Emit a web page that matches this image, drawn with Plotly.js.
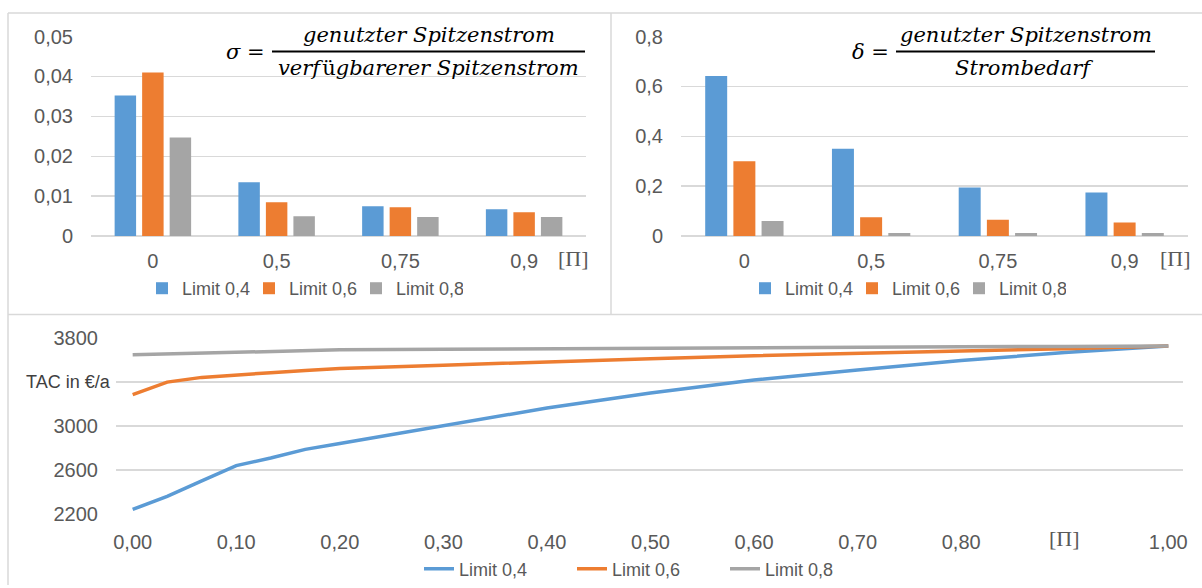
<!DOCTYPE html>
<html><head><meta charset="utf-8">
<script src="https://cdn.plot.ly/plotly-3.0.1.min.js"></script>
<style>html,body{margin:0;padding:0;background:#fff;}#chart{width:1202px;height:588px;}</style>
</head><body><div id="chart"></div>
<script>
// ---- data ----
const categories = ['0', '0,5', '0,75', '0,9'];
const seriesNames = ['Limit 0,4', 'Limit 0,6', 'Limit 0,8'];
const sigma04 = [0.0352, 0.0135, 0.0075, 0.0067];
const sigma06 = [0.0410, 0.0085, 0.0072, 0.0060];
const sigma08 = [0.0247, 0.0050, 0.0048, 0.0048];
const delta04 = [0.642, 0.350, 0.195, 0.175];
const delta06 = [0.300, 0.076, 0.065, 0.054];
const delta08 = [0.060, 0.012, 0.012, 0.012];
const piValues = [0, 0.0333, 0.0667, 0.1, 0.1333, 0.1667, 0.2, 0.3, 0.4, 0.5, 0.6, 0.7, 0.8, 0.9, 1.0];
const tac04 = [2242, 2362, 2502, 2641, 2710, 2789, 2843, 3003, 3165, 3302, 3421, 3512, 3597, 3670, 3730];
const tac06 = [3287, 3401, 3444, 3468, 3487, 3506, 3525, 3555, 3587, 3614, 3641, 3665, 3684, 3705, 3730];
const tac08 = [3649, 3657, 3665, 3673, 3681, 3689, 3695, 3700, 3703, 3706, 3712, 3717, 3722, 3726, 3730];
const tacTickVals = [2200, 2600, 3000, 3400, 3800];
const tacTickText = ['2200', '2600', '3000', '', '3800'];
const piTickVals = [0, 0.1, 0.2, 0.3, 0.4, 0.5, 0.6, 0.7, 0.8, 0.9, 1.0];
const piTickText = ['0,00', '0,10', '0,20', '0,30', '0,40', '0,50', '0,60', '0,70', '0,80', '', '1,00'];
const colors = ['#5B9BD5', '#ED7D31', '#A5A5A5'];

// ---- helpers ----
const W = 1202, H = 588;
const px = v => v / W;
const py = v => 1 - v / H;
const tickFont = {family: 'Liberation Sans, Arial, sans-serif', size: 20, color: '#595959'};
const legFont = {family: 'Liberation Sans, Arial, sans-serif', size: 18, color: '#595959'};
const gridC = '#D9D9D9';

const sigmaSeries = [sigma04, sigma06, sigma08];
const deltaSeries = [delta04, delta06, delta08];
const tacSeries = [tac04, tac06, tac08];
const traces = [];
sigmaSeries.forEach((s, i) => traces.push({type: 'bar', x: categories, y: s, name: seriesNames[i],
  marker: {color: colors[i]}, xaxis: 'x', yaxis: 'y', legend: 'legend', hoverinfo: 'skip'}));
deltaSeries.forEach((s, i) => traces.push({type: 'bar', x: categories, y: s, name: seriesNames[i],
  marker: {color: colors[i]}, xaxis: 'x2', yaxis: 'y2', legend: 'legend2', hoverinfo: 'skip'}));
tacSeries.forEach((s, i) => traces.push({type: 'scatter', mode: 'lines', x: piValues, y: s, name: seriesNames[i],
  line: {color: colors[i], width: 3.5}, xaxis: 'x3', yaxis: 'y3', legend: 'legend3', hoverinfo: 'skip'}));

const catAxis = (dom) => ({domain: dom, type: 'category', showgrid: false, zeroline: false, showline: false,
  ticks: '', tickfont: tickFont, ticklabelstandoff: 11, fixedrange: true});
const valAxis = (dom, range, dtick, anchor) => ({domain: dom, range: range, dtick: dtick, anchor: anchor,
  showgrid: true, gridcolor: gridC, gridwidth: 1.5, zeroline: true, zerolinecolor: gridC, zerolinewidth: 1.5,
  showline: false, ticks: '', tickfont: tickFont, ticklabelstandoff: 17, fixedrange: true});

const mathFont = {family: 'DejaVu Serif, serif', size: 21, color: '#000'};
const annotations = [
  {xref: 'paper', yref: 'paper', x: px(245), y: py(52), xanchor: 'center', yanchor: 'middle', showarrow: false,
   text: '<i>σ</i> =', font: mathFont},
  {xref: 'paper', yref: 'paper', x: px(428.5), y: py(49), xanchor: 'center', yanchor: 'bottom', showarrow: false,
   text: '<i>genutzter Spitzenstrom</i>', font: mathFont},
  {xref: 'paper', yref: 'paper', x: px(428.5), y: py(54), xanchor: 'center', yanchor: 'top', showarrow: false,
   text: '<i>verf</i>\u200Aü<i>gbarerer Spitzenstrom</i>', font: mathFont},
  {xref: 'paper', yref: 'paper', x: px(870), y: py(52), xanchor: 'center', yanchor: 'middle', showarrow: false,
   text: '<i>δ</i> =', font: mathFont},
  {xref: 'paper', yref: 'paper', x: px(1026), y: py(49), xanchor: 'center', yanchor: 'bottom', showarrow: false,
   text: '<i>genutzter Spitzenstrom</i>', font: mathFont},
  {xref: 'paper', yref: 'paper', x: px(1024), y: py(54), xanchor: 'center', yanchor: 'top', showarrow: false,
   text: '<i>Strombedarf</i>', font: mathFont},
  {xref: 'paper', yref: 'paper', x: px(573), y: py(260), xanchor: 'center', yanchor: 'middle', showarrow: false,
   text: '[Π]', font: {family: 'Liberation Serif, serif', size: 22, color: '#595959'}},
  {xref: 'paper', yref: 'paper', x: px(1175), y: py(260), xanchor: 'center', yanchor: 'middle', showarrow: false,
   text: '[Π]', font: {family: 'Liberation Serif, serif', size: 22, color: '#595959'}},
  {xref: 'x3', yref: 'paper', x: 0.9, y: py(541), xanchor: 'center', yanchor: 'middle', showarrow: false,
   text: '[Π]', font: {family: 'Liberation Serif, serif', size: 22, color: '#595959'}},
  {xref: 'paper', yref: 'y3', x: px(113), y: 3400, xanchor: 'right', yanchor: 'middle', showarrow: false,
   text: 'TAC in €/a', font: {family: 'Liberation Sans, Arial, sans-serif', size: 18, color: '#404040'}}
];

const borderLine = (x0, y0, x1, y1) => ({type: 'line', xref: 'paper', yref: 'paper', x0: px(x0), y0: py(y0),
  x1: px(x1), y1: py(y1), line: {color: '#D9D9D9', width: 1.5}, layer: 'below'});
const shapes = [
  borderLine(8, 13, 1202, 13),
  borderLine(8, 13, 8, 588),
  borderLine(611, 13, 611, 316),
  borderLine(8, 316, 1202, 316),
  {type: 'line', xref: 'paper', yref: 'paper', x0: px(272), x1: px(585), y0: py(51.7), y1: py(51.7), line: {color: '#000', width: 2}},
  {type: 'line', xref: 'paper', yref: 'paper', x0: px(896), x1: px(1155), y0: py(51.7), y1: py(51.7), line: {color: '#000', width: 2}}
];

const legendBase = {orientation: 'h', font: legFont, bgcolor: 'rgba(0,0,0,0)', xanchor: 'left', yanchor: 'middle',
  itemclick: false, itemdoubleclick: false};

const layout = {
  width: W, height: H, margin: {l: 0, r: 0, t: 0, b: 0, pad: 0},
  paper_bgcolor: '#fff', plot_bgcolor: 'rgba(0,0,0,0)',
  separators: ',.', barmode: 'group', bargap: 0.333, bargroupgap: 0.22,
  font: {family: 'Liberation Sans, Arial, sans-serif', color: '#595959'},
  xaxis: catAxis([px(91), px(586)]),
  yaxis: valAxis([py(237.3), py(36.7)], [0, 0.05], 0.01, 'x'),
  xaxis2: Object.assign(catAxis([px(681), px(1188)]), {anchor: 'y2'}),
  yaxis2: valAxis([py(237.3), py(36.7)], [0, 0.8], 0.2, 'x2'),
  xaxis3: {domain: [px(116), px(1183)], range: [-0.0161, 1.0142], anchor: 'y3', tickvals: piTickVals, ticktext: piTickText,
    showgrid: false, zeroline: false, showline: false, ticks: '', tickfont: tickFont, ticklabelstandoff: 14, fixedrange: true},
  yaxis3: Object.assign(valAxis([py(516.7), py(340)], [2200, 3800], 400, 'x3'), {tickvals: tacTickVals, ticktext: tacTickText, zeroline: false}),
  legend: Object.assign({}, legendBase, {x: px(142), y: py(290), entrywidth: 62}),
  legend2: Object.assign({}, legendBase, {x: px(745), y: py(290), entrywidth: 62}),
  legend3: Object.assign({}, legendBase, {x: px(419), y: py(572), entrywidth: 108}),
  annotations: annotations, shapes: shapes, showlegend: true
};
Plotly.newPlot('chart', traces, layout, {staticPlot: true, displayModeBar: false});
</script></body></html>
